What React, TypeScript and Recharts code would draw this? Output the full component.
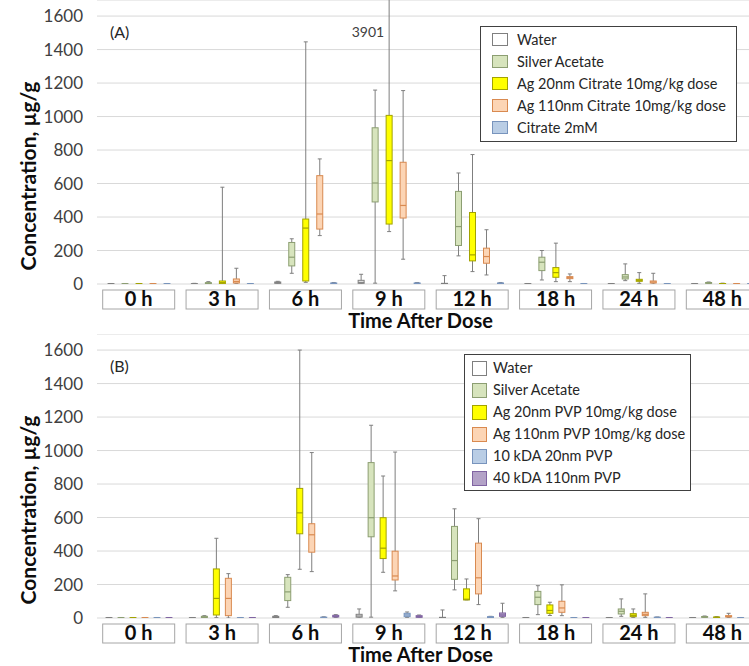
import { Bar, BarChart, CartesianGrid, Legend, XAxis, YAxis } from "recharts"

const times = ["0 h", "3 h", "6 h", "9 h", "12 h", "18 h", "24 h", "48 h"]
const yTicks = [0, 200, 400, 600, 800, 1000, 1200, 1400, 1600]

// each entry: [min, q1, median, q3, max], one per time point
const waterA = [[0, 0, 1, 2, 3], [0, 0, 1, 2, 4], [0, 4, 8, 12, 16], [0, 4, 10, 22, 58], [0, 1, 2, 4, 50], [0, 0, 1, 2, 3], [0, 0, 1, 2, 3], [0, 0, 1, 2, 3]]
const silverA = [[0, 0, 1, 2, 3], [0, 2, 5, 8, 14], [64, 108, 160, 248, 270], [5, 490, 603, 933, 1158], [168, 230, 343, 553, 663], [24, 80, 130, 160, 200], [20, 30, 42, 56, 120], [2, 4, 6, 9, 12]]
const ag20CitA = [[0, 0, 1, 2, 3], [0, 2, 8, 18, 578], [10, 18, 334, 388, 1446], [313, 358, 737, 1007, 3901], [74, 138, 174, 427, 773], [14, 40, 68, 98, 244], [4, 16, 22, 28, 68], [0, 1, 2, 3, 5]]
const ag110CitA = [[0, 0, 1, 2, 3], [4, 6, 15, 30, 94], [289, 328, 418, 647, 747], [148, 394, 469, 727, 1155], [54, 124, 164, 214, 324], [14, 32, 38, 44, 60], [0, 6, 12, 18, 64], [0, 0, 1, 2, 3]]
const citrateA = [[0, 0, 1, 2, 3], [0, 0, 1, 2, 3], [0, 2, 4, 6, 9], [0, 2, 4, 6, 9], [0, 2, 4, 6, 9], [0, 0, 1, 2, 3], [0, 0, 1, 2, 3], [0, 0, 1, 2, 3]]

const waterB = [[0, 0, 1, 2, 3], [0, 0, 1, 2, 3], [0, 3, 6, 10, 14], [0, 5, 12, 22, 54], [0, 1, 2, 4, 48], [0, 0, 1, 2, 3], [0, 0, 1, 2, 3], [0, 0, 1, 2, 3]]
const silverB = [[0, 0, 1, 2, 3], [0, 3, 6, 10, 14], [64, 104, 156, 243, 259], [5, 485, 599, 928, 1151], [168, 231, 343, 547, 652], [20, 80, 124, 159, 193], [10, 24, 40, 54, 114], [2, 4, 6, 9, 12]]
const ag20PvpB = [[0, 0, 1, 2, 3], [2, 18, 117, 293, 476], [291, 503, 628, 774, 1600], [273, 355, 417, 599, 848], [108, 108, 112, 174, 233], [15, 28, 45, 78, 94], [2, 8, 16, 26, 54], [0, 2, 4, 6, 8]]
const ag110PvpB = [[0, 0, 1, 2, 3], [0, 14, 117, 237, 265], [277, 393, 497, 563, 988], [162, 227, 251, 399, 991], [80, 144, 240, 447, 593], [14, 34, 60, 100, 198], [4, 14, 22, 34, 144], [2, 6, 10, 14, 28]]
const kda10B = [[0, 0, 1, 2, 3], [0, 0, 1, 2, 3], [0, 1, 3, 5, 7], [4, 8, 18, 28, 36], [0, 2, 5, 8, 10], [0, 0, 1, 2, 3], [0, 1, 3, 5, 6], [0, 0, 1, 2, 3]]
const kda40B = [[0, 0, 1, 2, 3], [0, 0, 1, 2, 3], [2, 6, 10, 16, 20], [0, 4, 8, 14, 18], [4, 10, 18, 30, 88], [0, 0, 1, 2, 3], [0, 0, 1, 2, 3], [0, 0, 1, 2, 3]]

const seriesA = [
  { name: "Water", fill: "#ffffff", stroke: "#7f7f7f", stats: waterA },
  { name: "Silver Acetate", fill: "#d7e4bd", stroke: "#8c9e72", stats: silverA },
  { name: "Ag 20nm Citrate 10mg/kg dose", fill: "#ffff00", stroke: "#a3a300", stats: ag20CitA },
  { name: "Ag 110nm Citrate 10mg/kg dose", fill: "#fcd5b5", stroke: "#d98a50", stats: ag110CitA },
  { name: "Citrate 2mM", fill: "#b9cde5", stroke: "#7894bd", stats: citrateA },
]

const seriesB = [
  { name: "Water", fill: "#ffffff", stroke: "#7f7f7f", stats: waterB },
  { name: "Silver Acetate", fill: "#d7e4bd", stroke: "#8c9e72", stats: silverB },
  { name: "Ag 20nm PVP 10mg/kg dose", fill: "#ffff00", stroke: "#a3a300", stats: ag20PvpB },
  { name: "Ag 110nm PVP 10mg/kg dose", fill: "#fcd5b5", stroke: "#d98a50", stats: ag110PvpB },
  { name: "10 kDA 20nm PVP", fill: "#b9cde5", stroke: "#7894bd", stats: kda10B },
  { name: "40 kDA 110nm PVP", fill: "#b3a2c7", stroke: "#8064a2", stats: kda40B },
]

type Series = typeof seriesA[number]

const buildRows = (series: Series[]) =>
  times.map((t, i) => {
    const row: any = { time: t }
    series.forEach((s, j) => {
      row[`r${j}`] = [s.stats[i][0], s.stats[i][4]]
      row[`s${j}`] = s.stats[i]
    })
    return row
  })

const topTick = yTicks[yTicks.length - 1]

// the range bar gives pixels of min and max, the rest is placed on the same linear scale
function BoxGlyph(p: any) {
  const { x, y, width, height, stats, fill, stroke } = p
  const [mn, q1, md, q3, mx] = stats
  const top = Math.min(y, y + height)
  const bot = Math.max(y, y + height)
  const span = mx - mn || 1
  const py = (v: number) => bot - ((v - mn) / span) * (bot - top)
  const cx = x + width / 2
  return (
    <g>
      <line x1={cx} x2={cx} y1={py(mx)} y2={py(mn)} stroke="#7f7f7f" strokeWidth={1} />
      <line x1={cx - 2} x2={cx + 2} y1={py(mx)} y2={py(mx)} stroke="#7f7f7f" />
      <line x1={cx - 2} x2={cx + 2} y1={py(mn)} y2={py(mn)} stroke="#7f7f7f" />
      <rect x={x} y={py(q3)} width={width} height={Math.max(py(q1) - py(q3), 0.6)} fill={fill} stroke={stroke} strokeWidth={1} />
      <line x1={x} x2={x + width} y1={py(md)} y2={py(md)} stroke={stroke} strokeWidth={1.2} />
      {mx > topTick && (
        <text x={cx - 5} y={py(topTick) + 21} textAnchor="end" fontSize={14} fill="#404040">{mx}</text>
      )}
    </g>
  )
}

function TimeTick({ x, y, payload }: any) {
  return (
    <g>
      <rect x={x - 36} y={y + 4} width={72} height={19} fill="#fff" stroke="#a6a6a6" />
      <text x={x} y={y + 20} textAnchor="middle" fontSize={20} fontWeight="bold" fill="#0d0d0d">{payload.value}</text>
    </g>
  )
}

function LegendBox({ series, swW, swH, gap, pad }: any) {
  return (
    <div style={{ border: "1.5px solid #404040", background: "#fff", padding: pad, boxSizing: "border-box" }}>
      {series.map((s: Series) => (
        <div key={s.name} style={{ display: "flex", alignItems: "center", height: 22 }}>
          <span style={{ flexShrink: 0, width: swW, height: swH, background: s.fill, border: `1px solid ${s.stroke}`, boxSizing: "border-box", marginRight: gap }} />
          <span style={{ fontSize: 14.5, color: "#262626", whiteSpace: "nowrap", lineHeight: "22px" }}>{s.name}</span>
        </div>
      ))}
    </div>
  )
}

function Panel({ series, tag, legend, barGap }: any) {
  const rows = buildRows(series)
  return (
    <BarChart width={770} height={332} data={rows} margin={{ top: 0, right: 6, bottom: 0, left: 0 }} barGap={barGap}>
      <CartesianGrid vertical={false} stroke="#d9d9d9" />
      <XAxis
        dataKey="time"
        interval={0}
        height={48}
        tickLine={false}
        axisLine={false}
        tickSize={0}
        tick={<TimeTick />}
        label={({ viewBox }: any) => (
          <text x={viewBox.x + viewBox.width / 2 - 10} y={viewBox.y + 44} textAnchor="middle" fontSize={20} fontWeight="bold" fill="#0d0d0d">Time After Dose</text>
        )}
      />
      <YAxis
        width={97}
        domain={[0, 1696]}
        ticks={yTicks}
        allowDataOverflow
        tickLine={false}
        axisLine={false}
        tickSize={0}
        tickMargin={14}
        tick={{ fontSize: 17, fill: "#404040" }}
        label={({ viewBox }: any) => (
          <text transform={`translate(${viewBox.x + 27}, ${viewBox.y + 176}) rotate(-90)`} textAnchor="middle" dominantBaseline="central" fontSize={21} fontWeight="bold" fill="#0d0d0d">Concentration, µg/g</text>
        )}
      />
      <Legend
        layout="vertical"
        align="center"
        verticalAlign="middle"
        wrapperStyle={{ left: legend.left, top: legend.top, width: legend.width }}
        content={() => <LegendBox series={series} swW={legend.swW} swH={legend.swH} gap={legend.gap} pad={legend.pad} />}
      />
      {series.map((s: Series, j: number) => (
        <Bar
          key={s.name}
          name={s.name}
          dataKey={`r${j}`}
          barSize={6}
          fill={s.fill}
          isAnimationActive={false}
          shape={(p: any) => <BoxGlyph {...p} stats={p.payload[`s${j}`]} fill={s.fill} stroke={s.stroke} />}
        />
      ))}
      <text x={110} y={38} fontSize={16} fill="#262626">{tag}</text>
    </BarChart>
  )
}

export default function App() {
  return (
    <div style={{ position: "absolute", left: 0, top: 0, width: 749, height: 666, overflow: "hidden", background: "#fff", fontFamily: "Lato" }}>
      <div style={{ position: "absolute", left: 0, top: 0 }}>
        <Panel
          series={seriesA}
          tag="(A)"
          barGap={8}
          legend={{ left: 480, top: 26, width: 257, swW: 16, swH: 13, gap: 9, pad: "1.5px 8px 2.5px 11px" }}
        />
      </div>
      <div style={{ position: "absolute", left: 0, top: 334 }}>
        <Panel
          series={seriesB}
          tag="(B)"
          barGap={6}
          legend={{ left: 464, top: 20, width: 227, swW: 15, swH: 15, gap: 6, pad: "2px 6px 1px 7px" }}
        />
      </div>
    </div>
  )
}
